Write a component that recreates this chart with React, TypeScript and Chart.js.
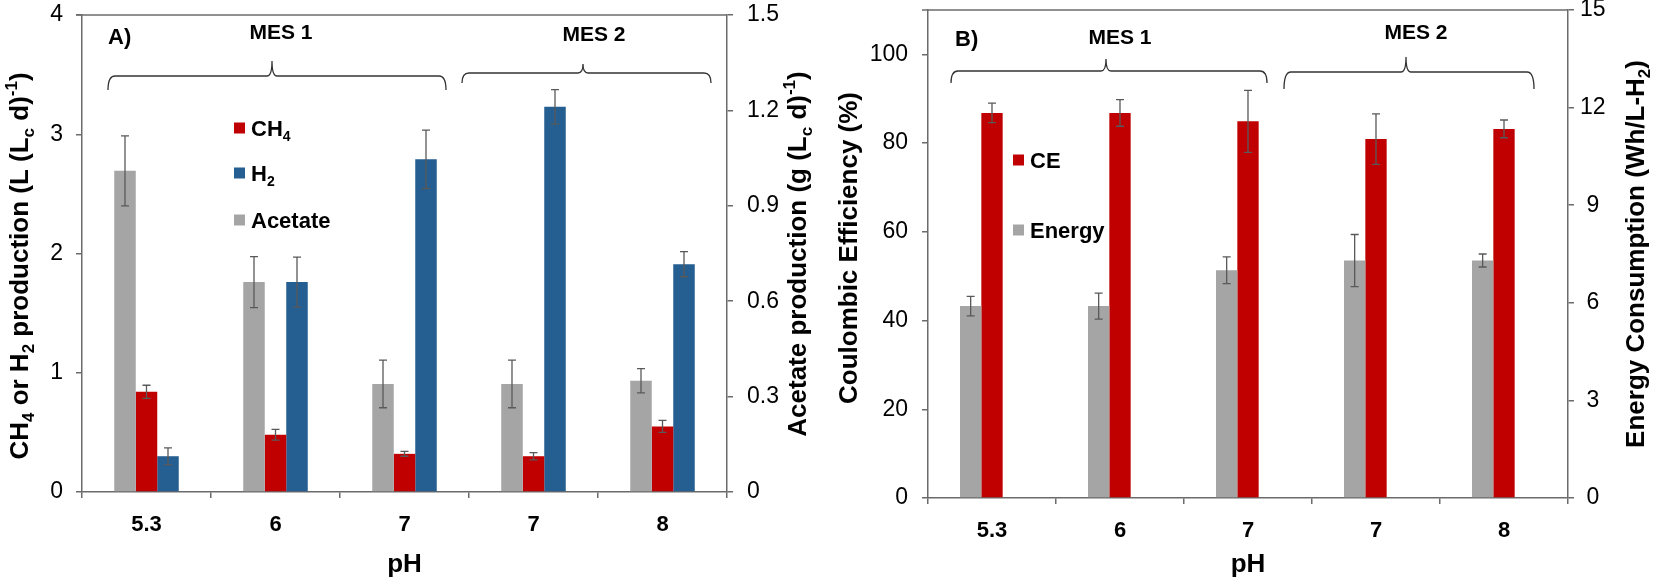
import { useEffect, useRef } from "react";
import { Chart, registerables } from "chart.js";

Chart.register(...registerables);

const FONT = "'Liberation Sans', Arial, sans-serif";

const phLabels = ["5.3", "6", "7", "7", "8"];

// panel A: CH4 / H2 in L (Lc d)-1, acetate in g (Lc d)-1
const acetate = [1.01, 0.66, 0.34, 0.34, 0.35];
const acetateErr = [0.11, 0.08, 0.075, 0.075, 0.038];
const ch4 = [0.84, 0.48, 0.32, 0.3, 0.55];
const ch4Err = [0.055, 0.045, 0.02, 0.03, 0.05];
const h2 = [0.3, 1.76, 2.79, 3.23, 1.91];
const h2Err = [0.07, 0.21, 0.245, 0.145, 0.105];

// panel B: coulombic efficiency (%) and energy (Wh/L-H2)
const energy = [5.9, 5.9, 7.0, 7.3, 7.3];
const energyErr = [0.3, 0.4, 0.41, 0.8, 0.2];
const ce = [86.8, 86.8, 84.9, 80.9, 83.2];
const ceErr = [2.2, 3.0, 7.0, 5.7, 2.0];

const GRAY = "#A5A5A5";
const RED = "#C00000";
const BLUE = "#255E91";
const AXIS = "#6b6b6b";

type Seg = { t: string; sub?: boolean; sup?: boolean };

interface Group {
  label: string;
  cx: number;
  cy: number;
  x1: number;
  x2: number;
  xm: number;
  yLine: number;
  yEnd: number;
  yTip: number;
}

interface Decor {
  panel: string;
  panelX: number;
  panelY: number;
  groups: Group[];
  legendX: number;
  legendYs: number[];
  legend: { color: string; label: Seg[] }[];
  leftTitle: Seg[];
  leftTitleX: number;
  leftTitleY: number;
  rightTitle: Seg[];
  rightTitleX: number;
  rightTitleY: number;
  xTitleY: number;
  errors: (number[] | null)[];
}

function segFont(s: Seg, size: number) {
  const sz = s.sub || s.sup ? Math.round(size * 0.65) : size;
  return `bold ${sz}px ${FONT}`;
}

// bold text with sub/superscripts, cap centre at (cx, cy)
function drawRich(ctx: CanvasRenderingContext2D, segs: Seg[], cx: number, cy: number, size: number, rotated: boolean, align: "center" | "left" = "center") {
  ctx.save();
  ctx.translate(cx, cy);
  if (rotated) ctx.rotate(-Math.PI / 2);
  let w = 0;
  for (const s of segs) {
    ctx.font = segFont(s, size);
    w += ctx.measureText(s.t).width;
  }
  let x = align === "center" ? -w / 2 : 0;
  const base = size * 0.36;
  ctx.textBaseline = "alphabetic";
  ctx.textAlign = "left";
  ctx.fillStyle = "#000";
  for (const s of segs) {
    ctx.font = segFont(s, size);
    const dy = s.sub ? size * 0.22 : s.sup ? -size * 0.42 : 0;
    ctx.fillText(s.t, x, base + dy);
    x += ctx.measureText(s.t).width;
  }
  ctx.restore();
}

function drawBrace(ctx: CanvasRenderingContext2D, g: Group) {
  const r = 7;
  ctx.beginPath();
  ctx.moveTo(g.x1, g.yEnd);
  ctx.quadraticCurveTo(g.x1, g.yLine, g.x1 + r, g.yLine);
  ctx.lineTo(g.xm - 5, g.yLine);
  ctx.quadraticCurveTo(g.xm, g.yLine, g.xm, g.yTip);
  ctx.quadraticCurveTo(g.xm, g.yLine, g.xm + 5, g.yLine);
  ctx.lineTo(g.x2 - r, g.yLine);
  ctx.quadraticCurveTo(g.x2, g.yLine, g.x2, g.yEnd);
  ctx.stroke();
}

function decorPlugin(d: Decor) {
  return {
    id: "decor",
    afterDatasetsDraw(chart: any) {
      const ctx: CanvasRenderingContext2D = chart.ctx;
      ctx.save();
      ctx.strokeStyle = "#595959";
      ctx.lineWidth = 1.3;
      d.errors.forEach((err, di) => {
        if (!err) return;
        const meta = chart.getDatasetMeta(di);
        const scale = chart.scales[meta.yAxisID];
        const vals = chart.data.datasets[di].data as number[];
        meta.data.forEach((bar: any, i: number) => {
          const v = vals[i];
          if (v == null) return;
          const top = scale.getPixelForValue(v + err[i]);
          const bot = scale.getPixelForValue(v - err[i]);
          ctx.beginPath();
          ctx.moveTo(bar.x, top);
          ctx.lineTo(bar.x, bot);
          ctx.moveTo(bar.x - 4, top);
          ctx.lineTo(bar.x + 4, top);
          ctx.moveTo(bar.x - 4, bot);
          ctx.lineTo(bar.x + 4, bot);
          ctx.stroke();
        });
      });
      ctx.restore();
    },
    afterDraw(chart: any) {
      const ctx: CanvasRenderingContext2D = chart.ctx;
      const a = chart.chartArea;
      ctx.save();
      // top frame line
      ctx.strokeStyle = AXIS;
      ctx.lineWidth = 1.5;
      ctx.beginPath();
      ctx.moveTo(a.left - 6, a.top);
      ctx.lineTo(a.right, a.top);
      ctx.stroke();

      ctx.fillStyle = "#000";
      ctx.font = `bold 22px ${FONT}`;
      ctx.textBaseline = "middle";
      ctx.textAlign = "left";
      ctx.fillText(d.panel, d.panelX, d.panelY);

      ctx.font = `bold 21px ${FONT}`;
      ctx.strokeStyle = "#333";
      ctx.lineWidth = 1.3;
      for (const g of d.groups) {
        ctx.textAlign = "center";
        ctx.fillText(g.label, g.cx, g.cy);
        drawBrace(ctx, g);
      }

      d.legend.forEach((item, i) => {
        const y = d.legendYs[i];
        ctx.fillStyle = item.color;
        ctx.fillRect(d.legendX, y - 5.5, 11, 11);
        drawRich(ctx, item.label, d.legendX + 17, y, 22, false, "left");
      });

      drawRich(ctx, d.leftTitle, d.leftTitleX, d.leftTitleY, 26, true);
      drawRich(ctx, d.rightTitle, d.rightTitleX, d.rightTitleY, 26, true);
      drawRich(ctx, [{ t: "pH" }], (a.left + a.right) / 2, d.xTitleY, 26, false);
      ctx.restore();
    },
  };
}

function yScale(position: "left" | "right", max: number, step: number, width: number, padding: number, crossAlign: "near" | "center" = "near") {
  return {
    type: "linear" as const,
    position,
    min: 0,
    max,
    grid: { drawOnChartArea: false, drawTicks: true, tickLength: 6, color: AXIS, lineWidth: 1.5 },
    border: { display: true, color: AXIS, width: 1.5 },
    ticks: {
      stepSize: step,
      includeBounds: false,
      padding,
      crossAlign,
      color: "#000",
      font: { family: FONT, size: 23, lineHeight: 1 },
      callback: (v: number) => String(Math.round(v * 10) / 10),
    },
    afterFit: (s: any) => {
      s.width = width;
      s.paddingTop = 0;
      s.paddingBottom = 0;
    },
  };
}

function xScale(height: number) {
  return {
    type: "category" as const,
    offset: true,
    grid: { drawOnChartArea: false, drawTicks: true, tickLength: 6, offset: true, color: AXIS, lineWidth: 1.5 },
    border: { display: true, color: AXIS, width: 1.5 },
    ticks: { color: "#000", padding: 14, font: { family: FONT, size: 22, weight: "bold" as const } },
    afterFit: (s: any) => {
      s.height = height;
      s.paddingLeft = 0;
      s.paddingRight = 0;
    },
  };
}

function makeChartA(canvas: HTMLCanvasElement) {
  const decor: Decor = {
    panel: "A)",
    panelX: 108,
    panelY: 38,
    groups: [
      { label: "MES 1", cx: 281, cy: 33, x1: 108, x2: 446, xm: 272, yLine: 76, yEnd: 90, yTip: 61 },
      { label: "MES 2", cx: 594, cy: 35, x1: 462, x2: 711, xm: 583, yLine: 73, yEnd: 83, yTip: 64 },
    ],
    legendX: 234,
    legendYs: [128, 173, 220],
    legend: [
      { color: RED, label: [{ t: "CH" }, { t: "4", sub: true }] },
      { color: BLUE, label: [{ t: "H" }, { t: "2", sub: true }] },
      { color: GRAY, label: [{ t: "Acetate" }] },
    ],
    leftTitle: [
      { t: "CH" }, { t: "4", sub: true }, { t: " or H" }, { t: "2", sub: true },
      { t: " production (L (L" }, { t: "c", sub: true }, { t: " d)" }, { t: "-1", sup: true }, { t: ")" },
    ],
    leftTitleX: 19,
    leftTitleY: 266,
    rightTitle: [
      { t: "Acetate production (g (L" }, { t: "c", sub: true }, { t: " d)" }, { t: "-1", sup: true }, { t: ")" },
    ],
    rightTitleX: 797,
    rightTitleY: 254,
    xTitleY: 563,
    errors: [acetateErr, ch4Err, h2Err],
  };
  return new Chart(canvas, {
    type: "bar",
    data: {
      labels: phLabels,
      datasets: [
        { label: "Acetate", data: acetate, backgroundColor: GRAY, yAxisID: "y1" },
        { label: "CH4", data: ch4, backgroundColor: RED, yAxisID: "y" },
        { label: "H2", data: h2, backgroundColor: BLUE, yAxisID: "y" },
      ],
    },
    options: {
      responsive: true,
      maintainAspectRatio: false,
      animation: false,
      layout: { padding: { left: 0, right: 0, top: 15, bottom: 0 } },
      datasets: { bar: { barPercentage: 1, categoryPercentage: 0.5, borderWidth: 0 } },
      plugins: { legend: { display: false }, tooltip: { enabled: false } },
      scales: {
        x: xScale(88),
        y: yScale("left", 4, 1, 82, 13),
        y1: yScale("right", 1.5, 0.3, 103, 14),
      } as any,
    },
    plugins: [decorPlugin(decor)],
  });
}

function makeChartB(canvas: HTMLCanvasElement) {
  const decor: Decor = {
    panel: "B)",
    panelX: 125,
    panelY: 40,
    groups: [
      { label: "MES 1", cx: 290, cy: 38, x1: 121, x2: 437, xm: 276, yLine: 71, yEnd: 83, yTip: 59 },
      { label: "MES 2", cx: 586, cy: 33, x1: 454, x2: 704, xm: 576, yLine: 72, yEnd: 89, yTip: 57 },
    ],
    legendX: 183,
    legendYs: [160, 230],
    legend: [
      { color: RED, label: [{ t: "CE" }] },
      { color: GRAY, label: [{ t: "Energy" }] },
    ],
    leftTitle: [{ t: "Coulombic Efficiency (%)" }],
    leftTitleX: 18,
    leftTitleY: 248,
    rightTitle: [{ t: "Energy Consumption (Wh/L-H" }, { t: "2", sub: true }, { t: ")" }],
    rightTitleX: 805,
    rightTitleY: 254,
    xTitleY: 563,
    errors: [energyErr, ceErr, null],
  };
  return new Chart(canvas, {
    type: "bar",
    data: {
      labels: phLabels,
      datasets: [
        { label: "Energy", data: energy, backgroundColor: GRAY, yAxisID: "y1" },
        { label: "CE", data: ce, backgroundColor: RED, yAxisID: "y" },
        { label: "", data: [], backgroundColor: "transparent", yAxisID: "y" },
      ],
    },
    options: {
      responsive: true,
      maintainAspectRatio: false,
      animation: false,
      layout: { padding: { left: 0, right: 0, top: 10, bottom: 0 } },
      datasets: { bar: { barPercentage: 1, categoryPercentage: 0.5, borderWidth: 0 } },
      plugins: { legend: { display: false }, tooltip: { enabled: false } },
      scales: {
        x: xScale(82),
        y: yScale("left", 110, 20, 98, 14),
        y1: yScale("right", 15, 3, 86, 6, "center"),
      } as any,
    },
    plugins: [decorPlugin(decor)],
  });
}

function Panel({ left, width, build }: { left: number; width: number; build: (c: HTMLCanvasElement) => Chart }) {
  const canvasRef = useRef<HTMLCanvasElement>(null);
  useEffect(() => {
    if (!canvasRef.current) return;
    const chart = build(canvasRef.current);
    return () => chart.destroy();
  }, [build]);
  return (
    <div style={{ position: "absolute", left, top: 0, width, height: 580 }}>
      <canvas ref={canvasRef} />
    </div>
  );
}

export default function App() {
  return (
    <div style={{ position: "absolute", left: 0, top: 0, width: 1654, height: 580, background: "#fff", overflow: "hidden" }}>
      <Panel left={0} width={830} build={makeChartA} />
      <Panel left={830} width={824} build={makeChartB} />
    </div>
  );
}
